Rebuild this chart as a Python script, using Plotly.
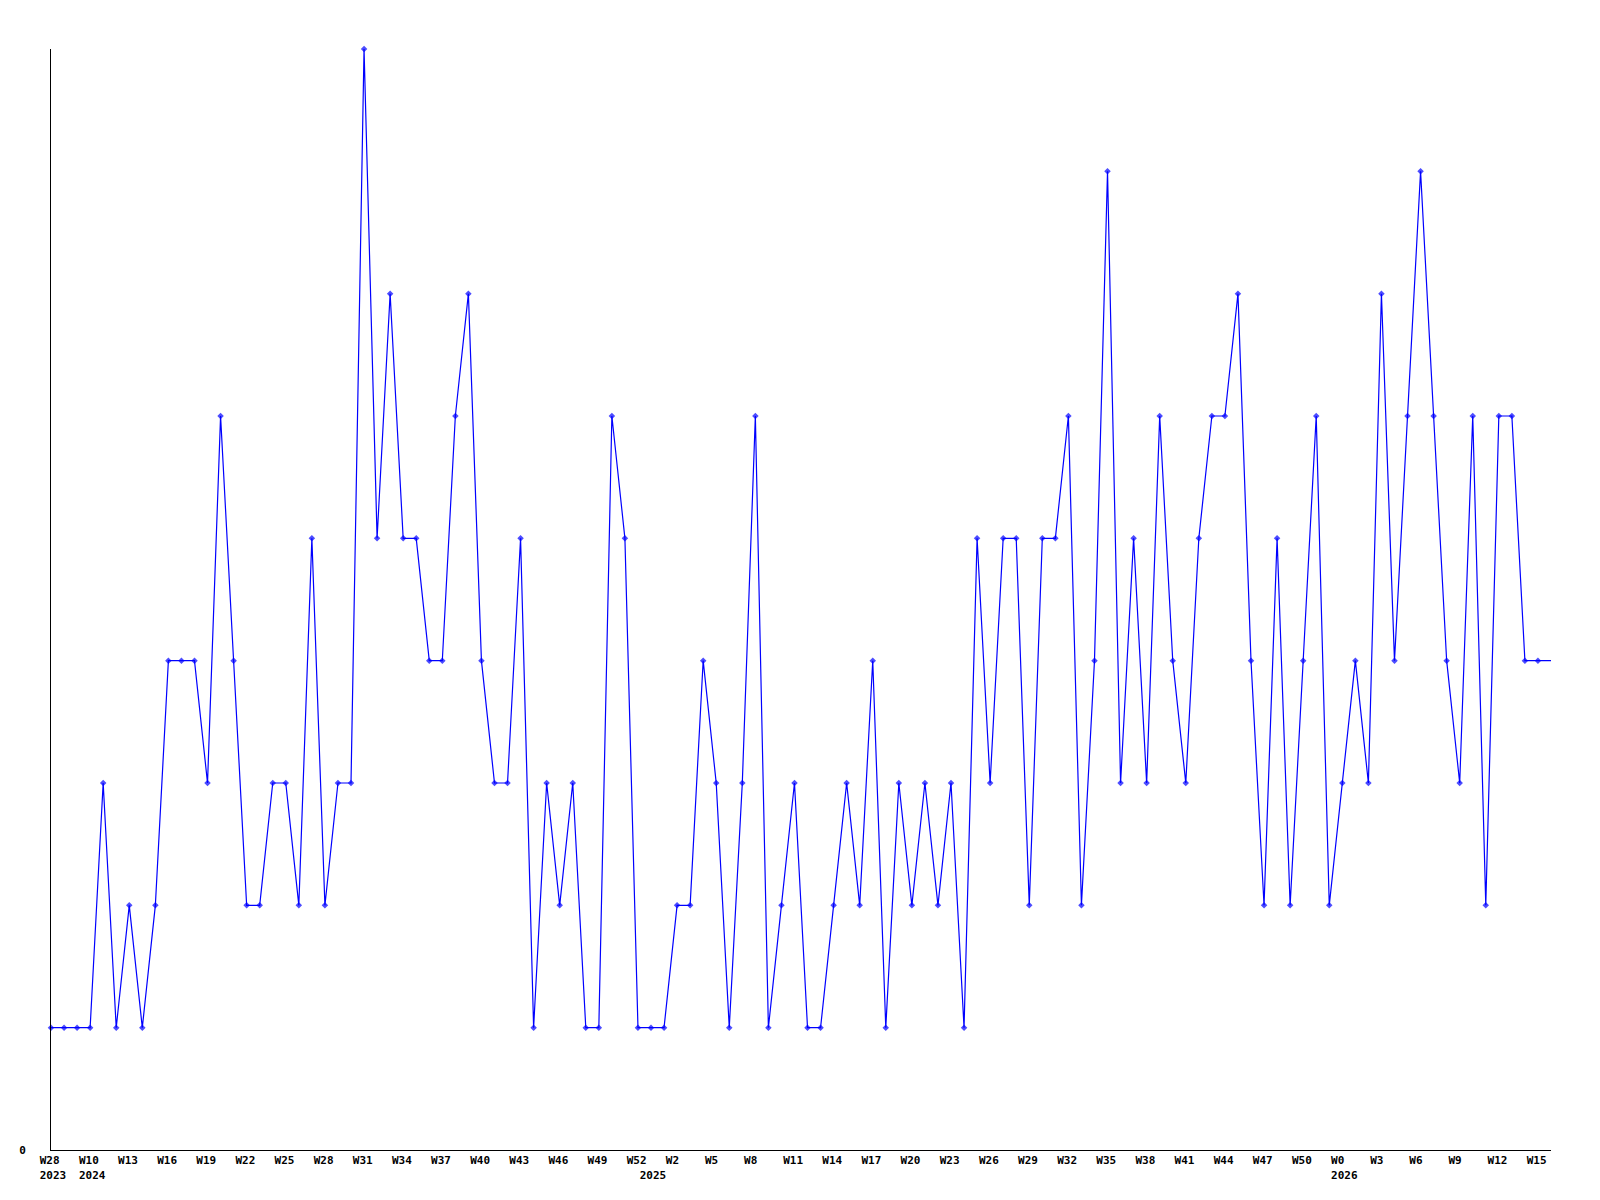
import plotly.graph_objects as go

# weekly counts, one per point (year / week labels below)
weeks_2023 = ["W28", "W29", "W30"]
weeks_2024 = [f"W{w}" for w in range(10, 53)]
weeks_2025 = [f"W{w}" for w in range(0, 53)]
weeks_2026 = [f"W{w}" for w in range(0, 17)]

years = ["2023", "2024", "2025", "2026"]
year_weeks = [weeks_2023, weeks_2024, weeks_2025, weeks_2026]

values = [
    1, 1, 1, 1, 3, 1, 2, 1, 2, 4,
    4, 4, 3, 6, 4, 2, 2, 3, 3, 2,
    5, 2, 3, 3, 9, 5, 7, 5, 5, 4,
    4, 6, 7, 4, 3, 3, 5, 1, 3, 2,
    3, 1, 1, 6, 5, 1, 1, 1, 2, 2,
    4, 3, 1, 3, 6, 1, 2, 3, 1, 1,
    2, 3, 2, 4, 1, 3, 2, 3, 2, 3,
    1, 5, 3, 5, 5, 2, 5, 5, 6, 2,
    4, 8, 3, 5, 3, 6, 4, 3, 5, 6,
    6, 7, 4, 2, 5, 2, 4, 6, 2, 3,
    4, 3, 7, 4, 6, 8, 6, 4, 3, 6,
    2, 6, 6, 4, 4, 4,
]

labels = []
year_start = {}
for year, wks in zip(years, year_weeks):
    year_start[len(labels)] = year
    labels.extend(wks)

x = list(range(len(values)))


def pad(s, n=4):
    return s + "\u00a0" * (n - len(s))


tickvals, ticktext = [], []
for i in x[:-1]:
    if i % 3 == 0:
        text = pad(labels[i])
        if i in year_start:
            text += "<br>" + year_start[i]
        tickvals.append(i)
        ticktext.append(text)
    elif i in year_start:
        tickvals.append(i)
        ticktext.append(pad("") + "<br>" + year_start[i])

marker_sizes = [5] * (len(values) - 1) + [0]

TICKFONT = dict(family="DejaVu Sans Mono", size=11, color="black", weight="bold")

fig = go.Figure(
    go.Scatter(
        x=x,
        y=values,
        text=labels,
        mode="lines+markers",
        line=dict(color="#0000ff", width=1.2),
        marker=dict(symbol="diamond", size=marker_sizes, color="#0000ff", line_width=0),
        cliponaxis=False,
        showlegend=False,
    )
)

# page body has an 8px margin, so the figure is a bit smaller and offset
fig.update_layout(
    width=1592,
    height=1192,
    margin=dict(l=43, r=49, t=41, b=50, pad=0),
    paper_bgcolor="white",
    plot_bgcolor="white",
    font=TICKFONT,
)
fig.update_xaxes(
    range=[0, len(values) - 1],
    tickvals=tickvals,
    ticktext=ticktext,
    tickfont=TICKFONT,
    tickangle=0,
    ticklabelshift=2,
    ticks="",
    automargin=False,
    showgrid=False,
    zeroline=False,
    showline=True,
    linecolor="black",
    linewidth=1,
)
fig.update_yaxes(
    range=[0, 9],
    tickvals=[0],
    ticktext=["0"],
    tickfont=TICKFONT,
    ticklabelstandoff=22,
    ticks="",
    automargin=False,
    showgrid=False,
    zeroline=False,
    showline=True,
    linecolor="black",
    linewidth=1,
)

fig.write_html("out.html")
